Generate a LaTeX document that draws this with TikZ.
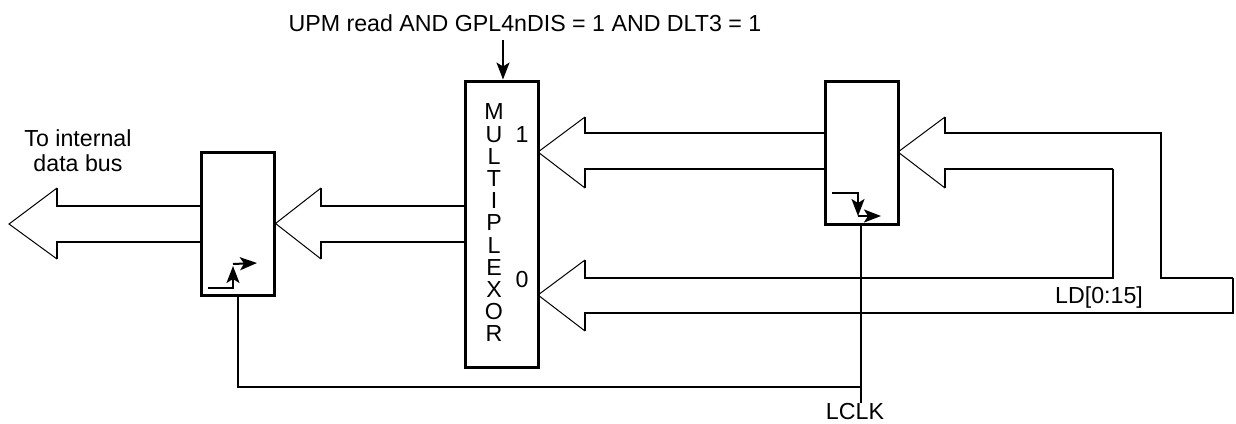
\documentclass[tikz,border=0pt]{standalone}
\usepackage{fontspec}
\setmainfont{Liberation Sans}
\usetikzlibrary{arrows.meta}

\begin{document}
\begin{tikzpicture}[
      x=1pt,
      y=-1pt,
      regbox/.style={
        draw,
        line width=3pt,
        inner sep=0pt
      },
      bus/.style={
        line width=2pt,
        line join=miter
      },
      head/.style={
        line width=1pt,
        line join=miter
      },
      wire/.style={
        line width=2pt
      },
      tip/.style={
        -{Stealth[length=17pt,width=13pt,inset=4pt]}
      },
      lbl/.style={
        inner sep=0pt,
        font=\fontsize{23.2}{25}\selectfont
      }
    ]
      \useasboundingbox (0,0) rectangle (1236,423);

      % registers and mux
      \node[regbox, minimum width=73pt, minimum height=143pt] (regl) at (237.5,223.5) {};
      \node[regbox, minimum width=73pt, minimum height=286pt] (mux) at (501.5,224) {};
      \node[regbox, minimum width=73pt, minimum height=143pt] (regr) at (861.5,152.5) {};

      % bus outlines
      \coordinate (outtip) at (9,224);
      \draw[head] (57,188) -- (outtip) -- (57,259);
      \draw[bus] (regl.west |- 0,206) -| (57,188);
      \draw[bus] (regl.west |- 0,242) -| (57,259);

      \draw[head] (321,188) -- (regl.east) -- (321,259);
      \draw[bus] (mux.west |- 0,206) -| (321,188);
      \draw[bus] (mux.west |- 0,242) -| (321,259);

      \coordinate (oneport) at (538,152);
      \draw[head] (585,117) -- (oneport) -- (585,188);
      \draw[bus] (regr.west |- 0,133) -| (585,117);
      \draw[bus] (regr.west |- 0,169) -| (585,188);

      \coordinate (zeroport) at (538,295);
      \draw[head] (585,260) -- (zeroport) -- (585,331);
      \draw[bus] (1113,169) -- (1113,278) -- (585,278) -- (585,260);
      \draw[bus] (1233,278) -- (1233,312.5) -- (585,312.5) -- (585,331);

      \coordinate (inport) at (898,152);
      \draw[head] (945,117) -- (inport) -- (945,188);
      \draw[bus] (945,117) -- (945,133) -- (1161,133) -- (1161,278) -- (1233,278);
      \draw[bus] (945,188) -- (945,169) -- (1113,169);

      % clock
      \node[lbl] (lclk) at (855,412) {LCLK};
      \coordinate (lclkend) at (861,403);
      \coordinate (clkjoin) at (861,387);
      \draw[wire] (regr.south -| lclkend) -- (lclkend);
      \draw[wire] (regl.south) -- (237.5,387) -- (clkjoin);

      % clock glyphs
      \draw[wire, tip] (832,193) -- (858,193) -- (858,216);
      \draw[wire, tip] (858,216) -- (881,216);
      \draw[wire, tip] (208,288) -- (233,288) -- (233,266);
      \draw[wire, tip] (233,264) -- (257,263);

      % select
      \node[lbl] (sel) at (525,23) {UPM read AND GPL4nDIS = 1 AND DLT3 = 1};
      \coordinate (selstart) at (503,40);
      \draw[wire, tip] (selstart) -- (mux.north -| selstart);

      % labels
      \node[lbl, align=center] (tobus) at (78,151) {To internal\\data bus};
      \node[lbl] (ldlbl) at (1099,297) {LD[0:15]};
      \node[lbl] (one) at (522,135) {1};
      \node[lbl] (zero) at (522,280) {0};
      \node[lbl, align=center, font=\fontsize{23.2}{22.2}\selectfont] (muxname) at (494,223)
        {M\\U\\L\\T\\I\\P\\L\\E\\X\\O\\R};
    \end{tikzpicture}
\end{document}
